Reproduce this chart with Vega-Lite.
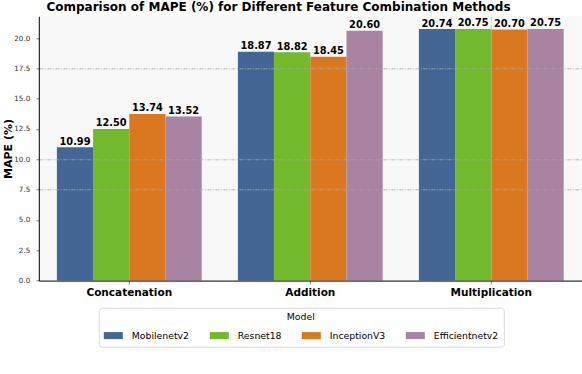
{
  "$schema": "https://vega.github.io/schema/vega-lite/v6.json",
  "autosize": {"type": "none"},
  "width": 543,
  "height": 264.3,
  "padding": {"left": 38.8, "top": 16.3, "right": 0.2, "bottom": 93.4},
  "background": "white",
  "config": {
    "font": "DejaVu Sans",
    "view": {"fill": "#f8f8f8", "stroke": null}
  },
  "title": {
    "text": "Comparison of MAPE (%) for Different Feature Combination Methods",
    "fontSize": 12,
    "fontWeight": "bold",
    "color": "black",
    "anchor": "middle",
    "baseline": "alphabetic",
    "offset": 0,
    "dy": 6.5,
    "dx": -31.8
  },
  "data": {
    "values": [
      {"method": "Concatenation", "model": "Mobilenetv2", "mape": 10.99},
      {"method": "Concatenation", "model": "Resnet18", "mape": 12.50},
      {"method": "Concatenation", "model": "InceptionV3", "mape": 13.74},
      {"method": "Concatenation", "model": "Efficientnetv2", "mape": 13.52},
      {"method": "Addition", "model": "Mobilenetv2", "mape": 18.87},
      {"method": "Addition", "model": "Resnet18", "mape": 18.82},
      {"method": "Addition", "model": "InceptionV3", "mape": 18.45},
      {"method": "Addition", "model": "Efficientnetv2", "mape": 20.60},
      {"method": "Multiplication", "model": "Mobilenetv2", "mape": 20.74},
      {"method": "Multiplication", "model": "Resnet18", "mape": 20.75},
      {"method": "Multiplication", "model": "InceptionV3", "mape": 20.70},
      {"method": "Multiplication", "model": "Efficientnetv2", "mape": 20.75}
    ]
  },
  "encoding": {
    "x": {
      "field": "method",
      "type": "nominal",
      "sort": ["Concatenation", "Addition", "Multiplication"],
      "scale": {"paddingInner": 0.2, "paddingOuter": 0.1},
      "axis": {
        "title": null,
        "labelAngle": 0,
        "labelFontSize": 10.5,
        "labelFontWeight": "bold",
        "labelColor": "black",
        "labelPadding": 3,
        "tickSize": 3.5,
        "tickColor": "#888888",
        "domainColor": "black",
        "domainWidth": 1,
        "bandPosition": 0.5,
        "grid": true,
        "gridColor": "#aaaaaa",
        "gridWidth": 0.8,
        "gridDash": [4, 1.5, 1, 1.5],
        "gridOpacity": {"condition": {"test": "datum.value == 'Multiplication'", "value": 1}, "value": 0},
        "zindex": 1
      }
    },
    "xOffset": {
      "field": "model",
      "type": "nominal",
      "sort": ["Mobilenetv2", "Resnet18", "InceptionV3", "Efficientnetv2"],
      "scale": {"paddingInner": 0, "paddingOuter": 0}
    },
    "y": {
      "field": "mape",
      "type": "quantitative",
      "scale": {"domain": [0, 21.79], "nice": false, "zero": true},
      "axis": {
        "title": "MAPE (%)",
        "titleFontSize": 11,
        "titleFontWeight": "bold",
        "titleColor": "black",
        "titlePadding": 0,
        "values": [0, 2.5, 5, 7.5, 10, 12.5, 15, 17.5, 20],
        "format": ".1f",
        "labelFontSize": 7.2,
        "labelColor": "#333333",
        "labelPadding": 6,
        "tickSize": 3,
        "tickColor": "#888888",
        "domainColor": "black",
        "domainWidth": 1,
        "grid": true,
        "gridColor": "#aaaaaa",
        "gridWidth": 0.8,
        "gridDash": [4, 1.5, 1, 1.5],
        "gridOpacity": {"condition": {"test": "datum.value == 7.5 || datum.value == 10 || datum.value == 17.5", "value": 1}, "value": 0},
        "zindex": 1
      }
    }
  },
  "layer": [
    {
      "mark": {"type": "bar", "opacity": 1},
      "encoding": {
        "color": {
          "field": "model",
          "type": "nominal",
          "sort": ["Mobilenetv2", "Resnet18", "InceptionV3", "Efficientnetv2"],
          "scale": {
            "domain": ["Mobilenetv2", "Resnet18", "InceptionV3", "Efficientnetv2"],
            "range": ["#436695", "#72b92e", "#d97821", "#a884a2"]
          },
          "legend": {
            "orient": "none",
            "legendX": 60,
            "legendY": 291.4,
            "direction": "horizontal",
            "columns": 4,
            "title": "Model",
            "titleAnchor": "middle",
            "titleOrient": "top",
            "titleFontWeight": "normal",
            "titleFontSize": 9.3,
            "titleColor": "black",
            "titlePadding": 4,
            "labelFontSize": 9.3,
            "labelColor": "black",
            "labelOffset": 9,
            "symbolType": "M-1,-0.37H1V0.37H-1Z",
            "symbolSize": 361,
            "symbolStrokeWidth": 0,
            "symbolOpacity": 1,
            "columnPadding": 20,
            "padding": 5,
            "strokeColor": "#d9d9d9",
            "fillColor": "white",
            "cornerRadius": 3
          }
        }
      }
    },
    {
      "mark": {"type": "text", "baseline": "alphabetic", "dy": -2.5, "fontSize": 9.8, "fontWeight": "bold", "color": "black"},
      "encoding": {
        "text": {"field": "mape", "type": "quantitative", "format": ".2f"}
      }
    }
  ]
}
